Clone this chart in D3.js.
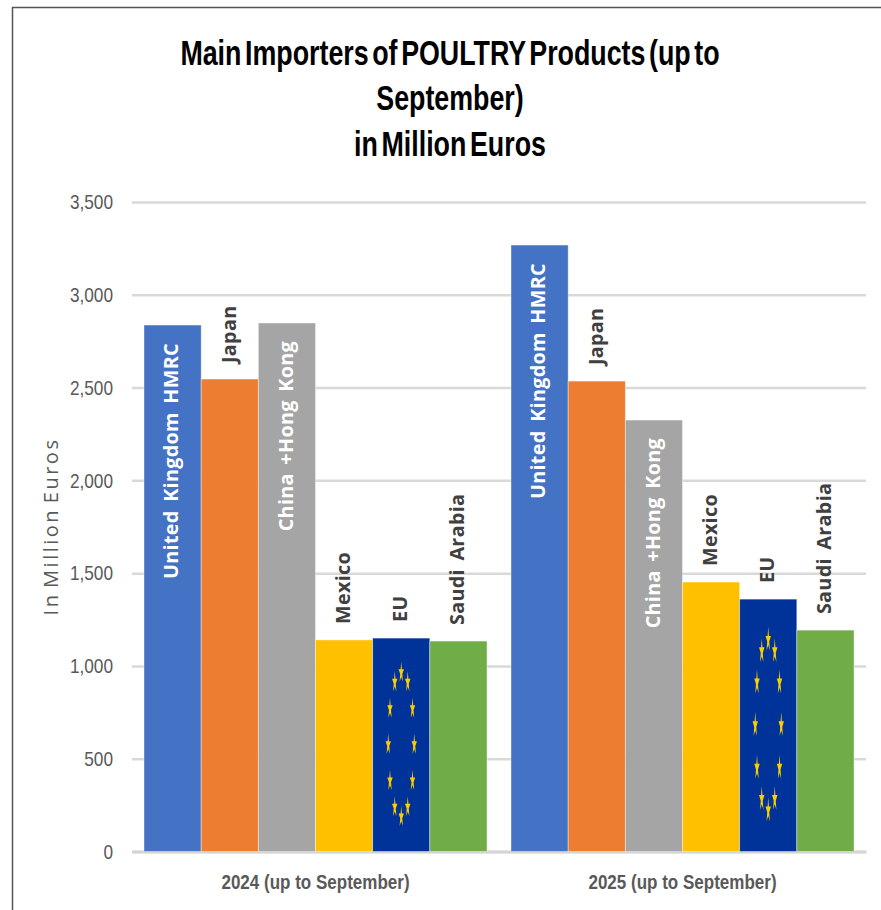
<!DOCTYPE html>
<html>
<head>
<meta charset="utf-8">
<script src="https://cdn.jsdelivr.net/npm/d3@7"></script>
<style>
    html, body { margin: 0; padding: 0; background: #fff; }
    svg { display: block; }
    .narrow { font-family: "Liberation Sans", sans-serif; }
</style>
</head>
<body>
<svg id="chart" width="881" height="910"></svg>
<script>
    var periods = ['2024 (up to September)', '2025 (up to September)'];
    var countries = ['United Kingdom HMRC', 'Japan', 'China +Hong Kong', 'Mexico', 'EU', 'Saudi Arabia'];
    var values2024 = [2837, 2546, 2848, 1140, 1150, 1134];
    var values2025 = [3268, 2535, 2325, 1452, 1360, 1193];
    var countryColors = ['#4472c4', '#ed7d31', '#a5a5a5', '#ffc000', '#003399', '#70ad47'];
    var yTicks = [0, 500, 1000, 1500, 2000, 2500, 3000, 3500];
    var titleLines = ['Main Importers of POULTRY Products (up to', 'September)', 'in Million Euros'];
    var yTitle = 'In Million Euros';
    var insideLabels = ['United Kingdom HMRC', 'China +Hong Kong'];
    var seriesByPeriod = [values2024, values2025];

    var svg = d3.select('#chart');
    var margin = {top: 202, right: 15, bottom: 58.5, left: 132},
        width = 881 - margin.left - margin.right,
        height = 910 - margin.top - margin.bottom;

    // no condensed font is installed, so squeeze the glyphs horizontally
    function squeeze(selection, k) {
        selection.each(function() {
            d3.select(this)
                .attr('textLength', this.getComputedTextLength() * k)
                .attr('lengthAdjust', 'spacingAndGlyphs');
        });
    }

    // frame, only left and top edges are visible in the picture
    svg.append('path')
        .attr('d', 'M12.5,910V7.5H881')
        .attr('fill', 'none')
        .attr('stroke', '#555')
        .attr('stroke-width', 1.5);

    var title = svg.append('g').attr('class', 'narrow');
    titleLines.forEach(function(d, i) {
        title.append('text')
            .attr('transform', 'translate(450,' + [65, 110, 156][i] + ') scale(0.766,1)')
            .attr('text-anchor', 'middle')
            .attr('font-size', 35)
            .attr('font-weight', 'bold')
            .attr('word-spacing', -5)
            .attr('fill', '#000')
            .text(d);
    });

    var g = svg.append('g').attr('transform', 'translate(' + margin.left + ',' + margin.top + ')');

    var xPeriod = d3.scaleBand().domain(periods).range([0, width]).paddingInner(0.0654).paddingOuter(0.0327);
    var xCountry = d3.scaleBand().domain(countries).range([0, xPeriod.bandwidth()]);
    var y = d3.scaleLinear().domain([0, 3500]).range([height, 0]);

    var yAxis = g.append('g')
        .attr('class', 'narrow')
        .call(d3.axisLeft(y).tickValues(yTicks).tickFormat(d3.format(',')).tickSize(-width).tickPadding(19));
    yAxis.select('.domain').remove();
    yAxis.selectAll('.tick line').attr('stroke', '#d9d9d9').attr('stroke-width', 2.5);
    yAxis.selectAll('.tick text').attr('font-size', 21).attr('fill', '#595959').call(squeeze, 0.82);

    var xAxis = g.append('g')
        .attr('class', 'narrow')
        .attr('transform', 'translate(0,' + height + ')')
        .call(d3.axisBottom(xPeriod).tickSize(0).tickPadding(23));
    xAxis.select('.domain').attr('stroke', '#d4d4d4').attr('stroke-width', 3);
    xAxis.selectAll('.tick text').attr('font-size', 21).attr('font-weight', 'bold').attr('fill', '#595959').call(squeeze, 0.81);

    svg.append('text')
        .attr('transform', 'translate(58,526.5) rotate(-90)')
        .attr('text-anchor', 'middle')
        .attr('font-family', '"Open Sans", sans-serif')
        .attr('font-size', 20)
        .attr('letter-spacing', 2.5)
        .attr('word-spacing', -3)
        .attr('fill', '#595959')
        .text(yTitle);

    var star = d3.symbol().type(d3.symbolStar).size(70);

    periods.forEach(function(period, p) {
        var group = g.append('g').attr('transform', 'translate(' + xPeriod(period) + ',0)');
        var rows = countries.map(function(c, i) {
            return {name: c, value: seriesByPeriod[p][i], color: countryColors[i]};
        });

        group.selectAll('rect')
            .data(rows)
            .enter().append('rect')
            .attr('x', function(d) { return xCountry(d.name); })
            .attr('y', function(d) { return y(d.value); })
            .attr('width', xCountry.bandwidth())
            .attr('height', function(d) { return height - y(d.value); })
            .attr('fill', function(d) { return d.color; })
            .attr('stroke', '#fff')
            .attr('stroke-opacity', 0.5)
            .attr('stroke-width', 0.8);

        // EU flag: ring of stars scaled with the bar, as a stretched picture fill would be
        var eu = rows[countries.indexOf('EU')];
        var cx = xCountry('EU') + xCountry.bandwidth() / 2;
        var barH = height - y(eu.value);
        var cy = y(eu.value) + barH / 2;
        d3.range(12).forEach(function(i) {
            var a = i * Math.PI / 6;
            group.append('path')
                .attr('d', star())
                .attr('fill', '#ffcc00')
                .attr('transform', 'translate(' + (cx + Math.sin(a) * 13) + ',' + (cy - Math.cos(a) * barH * 0.338) + ') scale(0.36,' + (barH / 150) + ')');
        });

        group.selectAll('.bar-label')
            .data(rows)
            .enter().append('text')
            .attr('class', 'bar-label')
            .attr('transform', function(d) {
                var inside = insideLabels.indexOf(d.name) >= 0;
                var ly = inside ? y(d.value) + 18 : y(d.value) - 16;
                return 'translate(' + (xCountry(d.name) + xCountry.bandwidth() / 2 - 1) + ',' + ly + ') rotate(-90)';
            })
            .attr('dy', '0.36em')
            .attr('text-anchor', function(d) { return insideLabels.indexOf(d.name) >= 0 ? 'end' : 'start'; })
            .attr('font-family', '"Open Sans", sans-serif')
            .attr('font-size', 19)
            .attr('font-weight', 700)
            .attr('letter-spacing', 0.3)
            .attr('word-spacing', 3)
            .attr('fill', function(d) { return insideLabels.indexOf(d.name) >= 0 ? '#fff' : '#404040'; })
            .text(function(d) { return d.name; })
            .call(squeeze, 1.04);
    });
</script>
</body>
</html>
